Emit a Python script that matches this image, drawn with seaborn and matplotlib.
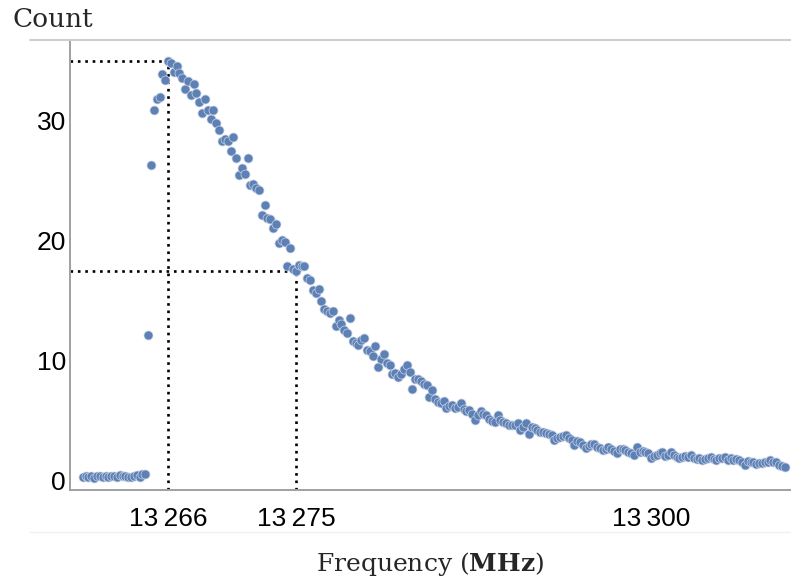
import matplotlib
matplotlib.use('Agg')
import matplotlib.pyplot as plt
import seaborn as sns
import pandas as pd
from matplotlib.lines import Line2D

# sweep frequencies (MHz) and counts
freq = [
    13260.0, 13260.2, 13260.4, 13260.6, 13260.8, 13261.0, 13261.2, 13261.4, 13261.6, 13261.8,
    13262.0, 13262.2, 13262.4, 13262.6, 13262.8, 13263.0, 13263.2, 13263.4, 13263.6, 13263.8,
    13264.0, 13264.2, 13264.4, 13264.6, 13264.8, 13265.0, 13265.2, 13265.4, 13265.6, 13265.8,
    13266.0, 13266.2, 13266.4, 13266.6, 13266.8, 13267.0, 13267.2, 13267.4, 13267.6, 13267.8,
    13268.0, 13268.2, 13268.4, 13268.6, 13268.8, 13269.0, 13269.2, 13269.4, 13269.6, 13269.8,
    13270.0, 13270.2, 13270.4, 13270.6, 13270.8, 13271.0, 13271.2, 13271.4, 13271.6, 13271.8,
    13272.0, 13272.2, 13272.4, 13272.6, 13272.8, 13273.0, 13273.2, 13273.4, 13273.6, 13273.8,
    13274.0, 13274.2, 13274.4, 13274.6, 13274.8, 13275.0, 13275.2, 13275.4, 13275.6, 13275.8,
    13276.0, 13276.2, 13276.4, 13276.6, 13276.8, 13277.0, 13277.2, 13277.4, 13277.6, 13277.8,
    13278.0, 13278.2, 13278.4, 13278.6, 13278.8, 13279.0, 13279.2, 13279.4, 13279.6, 13279.8,
    13280.0, 13280.2, 13280.4, 13280.6, 13280.8, 13281.0, 13281.2, 13281.4, 13281.6, 13281.8,
    13282.0, 13282.2, 13282.4, 13282.6, 13282.8, 13283.0, 13283.2, 13283.4, 13283.6, 13283.8,
    13284.0, 13284.2, 13284.4, 13284.6, 13284.8, 13285.0, 13285.2, 13285.4, 13285.6, 13285.8,
    13286.0, 13286.2, 13286.4, 13286.6, 13286.8, 13287.0, 13287.2, 13287.4, 13287.6, 13287.8,
    13288.0, 13288.2, 13288.4, 13288.6, 13288.8, 13289.0, 13289.2, 13289.4, 13289.6, 13289.8,
    13290.0, 13290.2, 13290.4, 13290.6, 13290.8, 13291.0, 13291.2, 13291.4, 13291.6, 13291.8,
    13292.0, 13292.2, 13292.4, 13292.6, 13292.8, 13293.0, 13293.2, 13293.4, 13293.6, 13293.8,
    13294.0, 13294.2, 13294.4, 13294.6, 13294.8, 13295.0, 13295.2, 13295.4, 13295.6, 13295.8,
    13296.0, 13296.2, 13296.4, 13296.6, 13296.8, 13297.0, 13297.2, 13297.4, 13297.6, 13297.8,
    13298.0, 13298.2, 13298.4, 13298.6, 13298.8, 13299.0, 13299.2, 13299.4, 13299.6, 13299.8,
    13300.0, 13300.2, 13300.4, 13300.6, 13300.8, 13301.0, 13301.2, 13301.4, 13301.6, 13301.8,
    13302.0, 13302.2, 13302.4, 13302.6, 13302.8, 13303.0, 13303.2, 13303.4, 13303.6, 13303.8,
    13304.0, 13304.2, 13304.4, 13304.6, 13304.8, 13305.0, 13305.2, 13305.4, 13305.6, 13305.8,
    13306.0, 13306.2, 13306.4, 13306.6, 13306.8, 13307.0, 13307.2, 13307.4, 13307.6, 13307.8,
    13308.0, 13308.2, 13308.4, 13308.6, 13308.8, 13309.0, 13309.2, 13309.4,
]
counts = [
    0.35, 0.45, 0.30, 0.40, 0.25, 0.40, 0.45, 0.35, 0.40, 0.30,
    0.45, 0.40, 0.35, 0.50, 0.45, 0.40, 0.30, 0.35, 0.40, 0.50,
    0.35, 0.55, 0.60, 12.2, 26.3, 30.9, 31.8, 32.0, 33.9, 33.4,
    35.0, 34.8, 34.1, 34.6, 34.0, 33.6, 32.7, 33.3, 32.2, 33.1,
    32.3, 31.6, 30.7, 31.8, 30.9, 30.2, 30.9, 29.8, 29.25, 28.3,
    28.5, 28.3, 27.5, 28.7, 26.9, 25.5, 26.1, 25.6, 26.9, 24.7,
    24.75, 24.4, 24.25, 22.2, 23.0, 21.9, 21.8, 21.1, 21.4, 19.8,
    20.1, 19.95, 17.9, 19.4, 17.7, 17.5, 18.0, 17.9, 17.9, 16.9,
    16.75, 15.9, 15.7, 16.0, 15.0, 14.3, 14.2, 14.0, 14.2, 12.9,
    13.4, 13.1, 12.6, 12.3, 13.6, 11.7, 11.5, 11.3, 11.75, 11.9,
    10.9, 10.8, 10.4, 11.25, 9.5, 10.2, 10.6, 9.8, 9.7, 8.9,
    9.0, 8.7, 8.9, 9.3, 9.7, 9.1, 7.7, 8.5, 8.5, 8.3,
    8.1, 8.0, 7.0, 7.6, 6.8, 6.6, 6.5, 6.7, 6.05, 6.25,
    6.3, 6.1, 6.2, 6.5, 6.0, 5.8, 5.9, 5.6, 5.1, 5.5,
    5.8, 5.6, 5.5, 5.2, 5.0, 4.9, 5.5, 5.1, 4.9, 4.8,
    4.7, 4.7, 4.7, 4.8, 4.25, 4.5, 4.85, 3.9, 4.5, 4.4,
    4.25, 4.1, 4.1, 4.0, 3.9, 3.8, 3.4, 3.55, 3.7, 3.75,
    3.8, 3.55, 3.4, 3.0, 3.3, 3.25, 3.0, 2.75, 2.9, 3.05,
    3.1, 2.85, 2.75, 2.6, 2.7, 2.85, 2.7, 2.5, 2.3, 2.7,
    2.7, 2.6, 2.45, 2.3, 2.2, 2.85, 2.45, 2.5, 2.4, 2.3,
    1.9, 2.1, 2.2, 2.3, 2.4, 2.05, 2.15, 2.4, 2.2, 2.0,
    1.9, 2.0, 2.05, 2.0, 2.15, 1.95, 1.85, 1.9, 1.75, 1.85,
    1.9, 2.0, 1.85, 1.75, 1.9, 1.95, 2.0, 1.75, 1.9, 1.75,
    1.8, 1.75, 1.6, 1.35, 1.7, 1.6, 1.55, 1.45, 1.5, 1.5,
    1.6, 1.6, 1.75, 1.6, 1.55, 1.35, 1.25, 1.2,
]

# peak and half-maximum markers
marked_freqs = [13266, 13275]
marked_counts = [35, 17.5]

x_ticks = [13266, 13275, 13300]
x_tick_labels = ['13\u2009266', '13\u2009275', '13\u2009300']
y_ticks = [0, 10, 20, 30]

sns.set_theme(style='white', rc={'mathtext.fontset': 'dejavuserif'})

df = pd.DataFrame({'freq': freq, 'count': counts})

fig = plt.figure(figsize=(7.91, 5.84), dpi=100)
ax = fig.add_axes([70 / 791, 94 / 584, 721 / 791, 450 / 584])

sns.scatterplot(data=df, x='freq', y='count', ax=ax, color='#5e81b5',
                s=42, linewidth=0.5, edgecolor='#c9d3e6', zorder=3)

ax.set_xlim(13259.1, 13309.85)
ax.set_ylim(-0.75, 36.75)
x0, y0 = ax.get_xlim()[0], ax.get_ylim()[0]

for f, c in zip(marked_freqs, marked_counts):
    ax.plot([x0, f], [c, c], color='black', lw=1.9, ls=(0, (1, 1.8)), zorder=2)
    ax.plot([f, f], [y0, c], color='black', lw=1.9, ls=(0, (1, 1.8)), zorder=2)

for side in ['top', 'right']:
    ax.spines[side].set_visible(False)
for side in ['left', 'bottom']:
    ax.spines[side].set_color('#a0a0a0')
    ax.spines[side].set_linewidth(1.4)

ax.set_xticks(x_ticks)
ax.set_xticklabels(x_tick_labels)
ax.set_yticks(y_ticks)
ax.tick_params(axis='both', direction='in', length=6, width=1.1,
               colors='#777777', labelcolor='black', labelsize=19)
ax.tick_params(axis='x', pad=12)
ax.tick_params(axis='y', pad=3)
for lab in ax.get_xticklabels() + ax.get_yticklabels():
    lab.set_family(['Liberation Sans', 'DejaVu Sans'])

ax.set_xlabel(r'Frequency ($\mathbf{MHz}$)', family='DejaVu Serif',
              fontsize=18, labelpad=14)
ax.set_ylabel('')
fig.text(13 / 791, 1 - 27 / 584, 'Count', family='DejaVu Serif',
         fontsize=19, va='baseline', ha='left')

# frame lines from the original layout
fig.add_artist(Line2D([30 / 791, 1], [1 - 40 / 584, 1 - 40 / 584],
                      color='#cccccc', lw=1.4))
fig.add_artist(Line2D([30 / 791, 1], [1 - 532 / 584, 1 - 532 / 584],
                      color='#f0f0f0', lw=1.0))

fig.savefig('out.png', dpi=100)
